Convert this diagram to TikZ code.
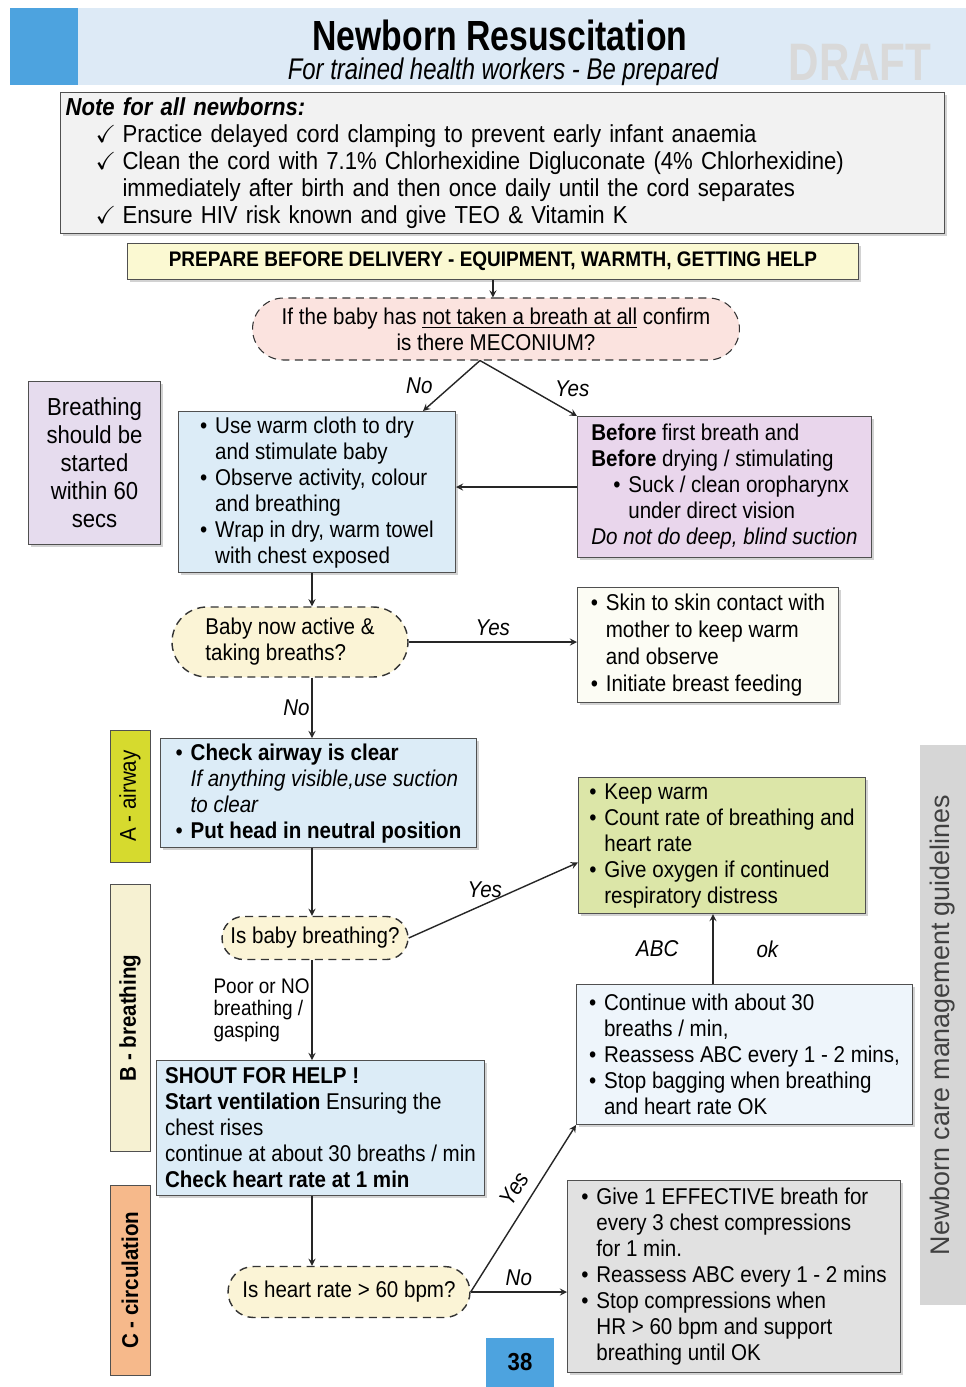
\documentclass[tikz,border=0pt]{standalone}
\usepackage{amssymb}
\usepackage{fontspec}
\setmainfont{Liberation Sans}[FakeStretch=0.9]
\newfontfamily\widefont{Liberation Sans}
\newfontfamily\titlefont{Liberation Sans}[FakeStretch=0.8]
\usepackage{xcolor}
\usetikzlibrary{shapes.misc,shadows}

\definecolor{headdark}{HTML}{4DA3DF}
\definecolor{headlight}{HTML}{DDEAF6}
\definecolor{notegray}{HTML}{F2F2F2}
\definecolor{prepyellow}{HTML}{FBF9D2}
\definecolor{mecpink}{HTML}{FBE3DF}
\definecolor{boxblue}{HTML}{DCECF7}
\definecolor{lilac}{HTML}{E6DCEE}
\definecolor{suckpurple}{HTML}{E9D6EC}
\definecolor{askyellow}{HTML}{FBF4D6}
\definecolor{skinwhite}{HTML}{FCFCF4}
\definecolor{tabA}{HTML}{D6DA2E}
\definecolor{tabB}{HTML}{F6F1D2}
\definecolor{tabC}{HTML}{F6B98B}
\definecolor{warmgreen}{HTML}{DCE6A8}
\definecolor{ventblue}{HTML}{EEF5FB}
\definecolor{cprgray}{HTML}{E1E1E1}
\definecolor{bandgray}{HTML}{D6D6D6}
\definecolor{bordgray}{HTML}{505050}

\newcommand{\bodyfs}{\fontsize{13}{14.8}\selectfont}
\newcommand{\notefs}{\fontsize{14}{15.4}\selectfont}
\newcommand{\smallfs}{\fontsize{12}{12.6}\selectfont}
\newcommand{\bul}{\makebox[0.3cm][l]{\textbullet}}
\newcommand{\hng}{\hspace*{0.3cm}}
\newcommand{\chk}{\hspace*{0.6cm}\makebox[0.54cm][l]{$\checkmark$}}

\begin{document}
\begin{tikzpicture}[
    x=0.02cm, y=-0.02cm,
    box/.style={draw=bordgray, semithick, anchor=north west, align=left, inner sep=0.1cm, font=\bodyfs,
                drop shadow={shadow xshift=0.5mm, shadow yshift=-0.5mm, opacity=0.35}},
    decision/.style={rounded rectangle, draw=black!80, dash pattern=on 1.6mm off 1.1mm, thick,
                align=left, font=\bodyfs, inner sep=0pt},
    tab/.style={draw=bordgray, rotate=90, minimum height=0.8cm, font=\bodyfs},
    arrow/.style={->, thick, >=stealth, draw=black!85},
    lbl/.style={font=\bodyfs\itshape}
  ]
    \useasboundingbox (0,0) rectangle (966,1387);
    \fill[white] (0,0) rectangle (966,1387);

    \node[fill=headlight, anchor=north west, minimum width=19.12cm, minimum height=1.54cm, inner sep=0] (band) at (10,8) {};
    \node[fill=headdark, anchor=north west, minimum width=1.36cm, minimum height=1.54cm, inner sep=0] (corner) at (10,8) {};
    \node[font=\titlefont\fontsize{24}{26}\selectfont\bfseries, inner sep=0pt] (title) at (500,35) {Newborn Resuscitation};
    \node[font=\titlefont\fontsize{17}{19}\selectfont\itshape, inner sep=0pt] (subtitle) at (503,72) {For trained health workers - Be prepared};
    \node[font=\titlefont\fontsize{30}{32}\selectfont\bfseries, text=gray!30] (draft) at (860,62) {DRAFT};

    \node[box, fill=notegray, minimum width=17.68cm, minimum height=2.8cm, text width=17.48cm, font=\notefs] (note) at (60,92)
      {\textbf{\textit{Note for all newborns:}}\\
       \chk Practice delayed cord clamping to prevent early infant anaemia\\
       \chk\makebox[15.24cm][s]{Clean the cord with 7.1\% Chlorhexidine Digluconate (4\% Chlorhexidine)}\\
       \hspace*{1.14cm}immediately after birth and then once daily until the cord separates\\
       \chk Ensure HIV risk known and give TEO \& Vitamin K};

    \node[box, fill=prepyellow, minimum width=14.62cm, minimum height=0.72cm, align=center,
          font=\fontsize{12}{14}\selectfont\bfseries] (prep) at (127,243)
      {PREPARE BEFORE DELIVERY - EQUIPMENT, WARMTH, GETTING HELP};

    \node[decision, fill=mecpink, semithick, align=center, minimum width=9.74cm, minimum height=1.24cm] (mec) at (496,329)
      {If the baby has \underline{not taken a breath at all} confirm\\ is there MECONIUM?};

    \node[box, fill=lilac, align=center, minimum width=2.64cm, minimum height=3.26cm,
          font=\fontsize{14}{15.9}\selectfont] (limit) at (28,381)
      {Breathing\\ should be\\ started\\ within 60\\ secs};

    \node[box, fill=boxblue, minimum width=5.54cm, minimum height=3.14cm] (dry) at (178,411)
      {\bul Use warm cloth to dry\\
       \hng and stimulate baby\\
       \bul Observe activity, colour\\
       \hng and breathing\\
       \bul Wrap in dry, warm towel\\
       \hng with chest exposed};

    \node[box, fill=suckpurple, minimum width=5.88cm, minimum height=2.82cm] (suction) at (577,416)
      {\textbf{Before} first breath and\\
       \textbf{Before} drying / stimulating\\
       \hspace*{0.44cm}\bul Suck / clean oropharynx\\
       \hspace*{0.74cm}under direct vision\\
       \textit{Do not do deep, blind suction}};

    \node[decision, fill=askyellow, minimum width=4.72cm, minimum height=1.4cm] (act) at (290,642)
      {Baby now active \&\\ taking breaths?};

    \node[box, fill=skinwhite, minimum width=5.22cm, minimum height=2.3cm, font=\fontsize{13}{15.4}\selectfont] (skin) at (577,587)
      {\bul Skin to skin contact with\\
       \hng mother to keep warm\\
       \hng and observe\\
       \bul Initiate breast feeding};

    \node[tab, fill=tabA, minimum width=2.64cm] (tabA) at (130,796) {A - airway};
    \node[tab, fill=tabB, minimum width=5.34cm, font=\bodyfs\bfseries] (tabB) at (130,1018) {B - breathing};
    \node[tab, fill=tabC, minimum width=3.8cm, font=\bodyfs\bfseries] (tabC) at (130,1280) {C - circulation};

    \node[box, fill=boxblue, minimum width=6.32cm, minimum height=2.16cm] (airway) at (160,738)
      {\bul\textbf{Check airway is clear}\\
       \hng\textit{If anything visible,use suction}\\
       \hng\textit{to clear}\\
       \bul\textbf{Put head in neutral position}};

    \node[box, fill=warmgreen, minimum width=5.74cm, minimum height=2.72cm] (support) at (578,777)
      {\bul Keep warm\\
       \bul Count rate of breathing and\\
       \hng heart rate\\
       \bul Give oxygen if continued\\
       \hng respiratory distress};

    \node[decision, fill=askyellow, minimum width=3.72cm, minimum height=0.86cm] (breath) at (315,938) {Is baby breathing?};

    \node[box, fill=boxblue, minimum width=6.56cm, minimum height=2.7cm] (shout) at (156,1060)
      {\textbf{SHOUT FOR HELP !}\\
       \textbf{Start ventilation} Ensuring the\\
       chest rises\\
       continue at about 30 breaths / min\\
       \textbf{Check heart rate at 1 min}};

    \node[box, fill=ventblue, minimum width=6.72cm, minimum height=2.8cm] (vent) at (576,984)
      {\bul Continue with about 30\\
       \hng breaths / min,\\
       \bul Reassess ABC every 1 - 2 mins,\\
       \bul Stop bagging when breathing\\
       \hng and heart rate OK};

    \node[decision, fill=askyellow, minimum width=4.84cm, minimum height=1.02cm] (heart) at (349,1292) {Is heart rate > 60 bpm?};

    \node[box, fill=cprgray, minimum width=6.66cm, minimum height=3.84cm] (cpr) at (567,1180)
      {\bul Give 1 EFFECTIVE breath for\\
       \hng every 3 chest compressions\\
       \hng for 1 min.\\
       \bul Reassess ABC every 1 - 2 mins\\
       \bul Stop compressions when\\
       \hng HR > 60 bpm and support\\
       \hng breathing until OK};

    \node[fill=headdark, minimum width=1.38cm, minimum height=0.98cm, font=\fontsize{14}{16}\selectfont\bfseries] (page) at (520,1362) {38};

    \node[fill=bandgray, rotate=90, minimum width=11.2cm, minimum height=0.92cm,
          font=\widefont\fontsize{15.3}{17}\selectfont, text=black!75] (guide) at (943,1025) {Newborn care management guidelines};

    \coordinate (spine) at (312,0);
    \coordinate (riser) at (713,0);

    \draw[arrow] (prep.south) -- (prep.south |- mec.north);
    \draw[arrow] ([xshift=-0.32cm]mec.south) -- node[lbl, midway, left=0.25cm] {No} ([xshift=-0.66cm]dry.north east);
    \draw[arrow] ([xshift=-0.32cm]mec.south) -- node[lbl, midway, right=0.4cm] {Yes} (suction.north west);
    \draw[arrow] (suction.west) -- (suction.west -| dry.east);
    \draw[arrow] (dry.south -| spine) -- (act.north -| spine);
    \draw[arrow] (act.east) -- node[lbl, above] {Yes} (act.east -| skin.west);
    \draw[arrow] (act.south -| spine) -- node[lbl, midway, left, inner sep=1pt] {No} (airway.north -| spine);
    \draw[arrow] (airway.south -| spine) -- (breath.north -| spine);
    \draw[arrow] (breath.east) -- node[lbl, pos=0.45, above] {Yes} ([yshift=-0.34cm]support.west);
    \draw[arrow] (breath.south -| spine) -- node[midway, left, align=left, font=\smallfs, inner sep=1pt] {Poor or NO\\breathing /\\gasping} (shout.north -| spine);
    \draw[arrow] (shout.south -| spine) -- (heart.north -| spine);
    \draw[arrow] (heart.east) -- node[lbl, above] {No} (heart.east -| cpr.west);
    \draw[arrow] (heart.east) -- node[lbl, pos=0.56, sloped, above=2pt] {Yes} (vent.south west);
    \draw[arrow] (vent.north -| riser) -- node[lbl, left=0.56cm] {ABC} node[lbl, right=0.74cm] {ok} (support.south -| riser);
  \end{tikzpicture}
\end{document}
